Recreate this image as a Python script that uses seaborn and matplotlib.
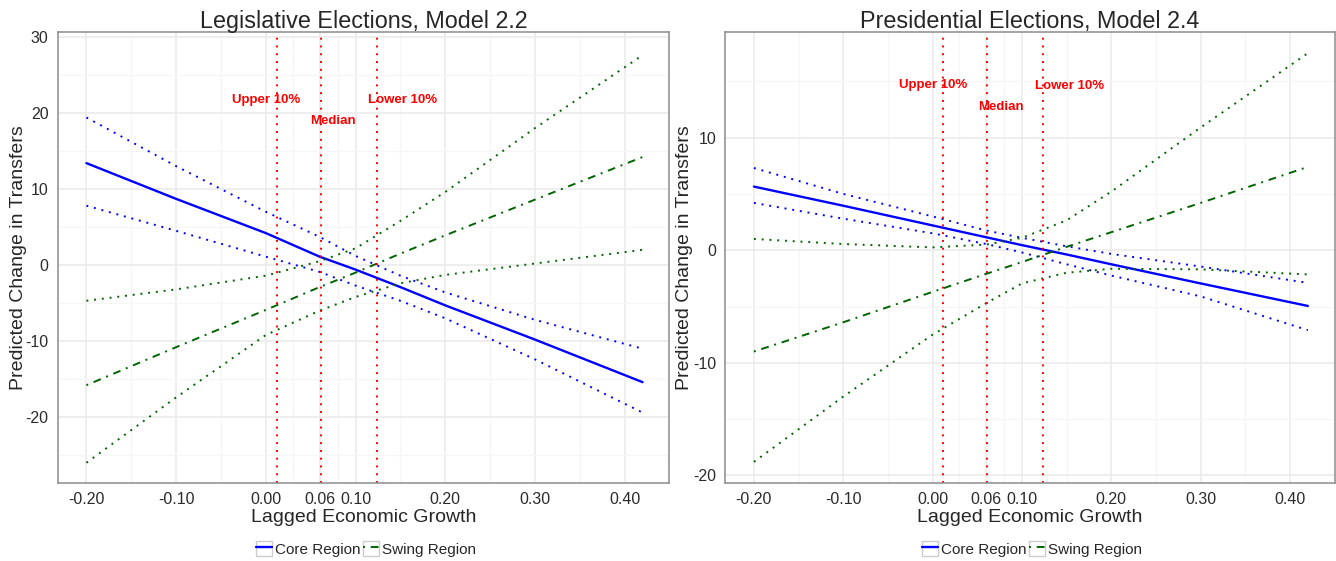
import matplotlib
matplotlib.use("Agg")
import matplotlib.pyplot as plt
from matplotlib.lines import Line2D
from matplotlib.patches import Rectangle
from matplotlib.legend_handler import HandlerLine2D
import pandas as pd
import seaborn as sns

# values
growth = [-0.20, -0.10, 0.00, 0.06, 0.10, 0.15, 0.20, 0.30, 0.42]

# Legislative Elections, Model 2.2
leg_core = [13.4, 8.7, 4.2, 1.1, -0.6, -2.9, -5.3, -9.8, -15.4]
leg_core_hi = [19.4, 13.0, 7.0, 3.7, 1.2, -1.4, -3.6, -7.2, -11.0]
leg_core_lo = [7.8, 4.5, 1.1, -0.9, -2.7, -4.7, -7.0, -12.4, -19.4]
leg_swing = [-15.8, -10.8, -5.9, -2.9, -1.0, 1.5, 3.9, 8.6, 14.2]
leg_swing_hi = [-4.7, -3.2, -1.4, 0.5, 2.2, 5.8, 9.6, 18.0, 27.6]
leg_swing_lo = [-26.0, -17.4, -9.2, -6.0, -4.2, -2.4, -1.3, 0.2, 2.0]

# Presidential Elections, Model 2.4
pres_core = [5.65, 3.95, 2.2, 1.15, 0.45, -0.38, -1.25, -2.95, -4.95]
pres_core_hi = [7.3, 5.0, 3.0, 1.75, 1.1, 0.35, -0.33, -1.45, -2.9]
pres_core_lo = [4.2, 2.8, 1.5, 0.55, -0.2, -1.25, -2.25, -4.1, -7.1]
pres_swing = [-9.0, -6.4, -3.7, -2.1, -1.05, 0.3, 1.6, 4.2, 7.4]
pres_swing_hi = [1.0, 0.55, 0.25, 0.5, 1.1, 2.65, 5.2, 10.9, 17.5]
pres_swing_lo = [-18.8, -13.0, -7.5, -4.7, -2.95, -2.0, -1.65, -1.7, -2.15]

# growth cut-offs marked with red lines
cutoffs = [0.012, 0.061, 0.124]
cutoff_labels = ["Upper 10%", "Median", "Lower 10%"]
leg_label_x = [0.0, 0.075, 0.153]
leg_label_y = [21.7, 19.0, 21.7]
pres_label_x = [0.001, 0.076, 0.153]
pres_label_y = [14.7, 12.7, 14.6]

x_ticks = [-0.2, -0.1, 0.0, 0.06, 0.1, 0.2, 0.3, 0.4]
x_tick_labels = ["-0.20", "-0.10", "0.00", "0.06", "0.10", "0.20", "0.30", "0.40"]
x_minor = [-0.15, -0.05, 0.03, 0.08, 0.15, 0.25, 0.35]
leg_y_ticks = [-20, -10, 0, 10, 20, 30]
leg_y_minor = [-25, -15, -5, 5, 15, 25]
pres_y_ticks = [-20, -10, 0, 10]
pres_y_minor = [-15, -5, 5, 15]

sns.set_style("white")
plt.rcParams["font.family"] = ["Liberation Sans", "DejaVu Sans"]
plt.rcParams["axes.unicode_minus"] = False

BLUE = "#0000FF"
GREEN = "#006400"
palette = {"core": BLUE, "core hi": BLUE, "core lo": BLUE,
           "swing": GREEN, "swing hi": GREEN, "swing lo": GREEN}
dashes = {"core": "", "core hi": (1, 3), "core lo": (1, 3),
          "swing": (1, 3, 4, 3), "swing hi": (1, 3), "swing lo": (1, 3)}
sizes = {"core": 1.7, "core hi": 1.4, "core lo": 1.4,
         "swing": 1.4, "swing hi": 1.4, "swing lo": 1.4}


def long_frame(parts):
    rows = []
    for name, vals in parts.items():
        rows += [(g, v, name) for g, v in zip(growth, vals)]
    return pd.DataFrame(rows, columns=["growth", "change", "line"])


class KeyBox(HandlerLine2D):
    # ggplot-like legend key: line inside a light grey square
    def create_artists(self, legend, orig_handle, xdescent, ydescent,
                       width, height, fontsize, trans):
        box = Rectangle((-xdescent, -ydescent), width, height, facecolor="white",
                        edgecolor="#cccccc", lw=1.0, transform=trans)
        arts = super().create_artists(legend, orig_handle, xdescent, ydescent,
                                      width, height, fontsize, trans)
        return [box] + list(arts)


def draw_panel(ax, df, title, label_x, label_y, y_ticks, y_minor, ylim, legend_x):
    ax.set_axisbelow(True)
    sns.lineplot(data=df, x="growth", y="change", hue="line", style="line",
                 size="line", palette=palette, dashes=dashes, sizes=sizes,
                 estimator=None, legend=False, ax=ax)
    for c in cutoffs:
        ax.axvline(c, color="red", lw=1.4, linestyle=(0, (1, 3)))
    for lab, tx, ty in zip(cutoff_labels, label_x, label_y):
        ax.text(tx, ty, lab, color="red", fontsize=9.5, fontweight="bold",
                ha="center", va="center")

    ax.set_xlim(-0.232, 0.450)
    ax.set_ylim(*ylim)
    ax.set_xticks(x_ticks)
    ax.set_xticklabels(x_tick_labels)
    ax.set_xticks(x_minor, minor=True)
    ax.set_yticks(y_ticks)
    ax.set_yticks(y_minor, minor=True)
    ax.grid(which="major", color="#EBEBEB", lw=1.2)
    ax.grid(which="minor", color="#F6F6F6", lw=0.9)
    ax.tick_params(which="major", length=4, width=1, color="#555555",
                   labelsize=11.5, labelcolor="#2b2b2b", pad=2.5)
    ax.tick_params(which="minor", length=0)
    for sp in ax.spines.values():
        sp.set_color("#8c8c8c")
        sp.set_linewidth(1.1)

    ax.set_title(title, fontsize=16.8, pad=3)
    ax.set_xlabel("Lagged Economic Growth", fontsize=14)
    ax.set_ylabel("Predicted Change in Transfers", fontsize=14)
    ax.xaxis.set_label_coords(0.5, -0.058)

    handles = [Line2D([], [], color=BLUE, lw=1.7),
               Line2D([], [], color=GREEN, lw=1.4, linestyle=(0, (1, 3, 4, 3)))]
    ax.legend(handles, ["Core Region", "Swing Region"], ncol=2, loc="center",
              bbox_to_anchor=(legend_x, 0.0214), bbox_transform=fig.transFigure,
              frameon=False, fontsize=11, handlelength=1.05, handleheight=1.05,
              handletextpad=0.2, columnspacing=0.2, borderpad=0,
              handler_map={Line2D: KeyBox()})


fig = plt.figure(figsize=(13.36, 5.61), dpi=100)
ax_leg = fig.add_axes([0.0432, 0.1385, 0.4579, 0.8039])
ax_pres = fig.add_axes([0.5429, 0.1385, 0.4561, 0.8039])

leg_df = long_frame({"core": leg_core, "core hi": leg_core_hi, "core lo": leg_core_lo,
                     "swing": leg_swing, "swing hi": leg_swing_hi, "swing lo": leg_swing_lo})
pres_df = long_frame({"core": pres_core, "core hi": pres_core_hi, "core lo": pres_core_lo,
                      "swing": pres_swing, "swing hi": pres_swing_hi, "swing lo": pres_swing_lo})

draw_panel(ax_leg, leg_df, "Legislative Elections, Model 2.2", leg_label_x, leg_label_y,
           leg_y_ticks, leg_y_minor, (-28.7, 30.6), 0.274)
ax_leg.yaxis.set_label_coords(-0.05, 0.5)

draw_panel(ax_pres, pres_df, "Presidential Elections, Model 2.4", pres_label_x, pres_label_y,
           pres_y_ticks, pres_y_minor, (-20.7, 19.35), 0.7725)
ax_pres.yaxis.set_label_coords(-0.053, 0.5)

fig.savefig("out.png", dpi=100)
